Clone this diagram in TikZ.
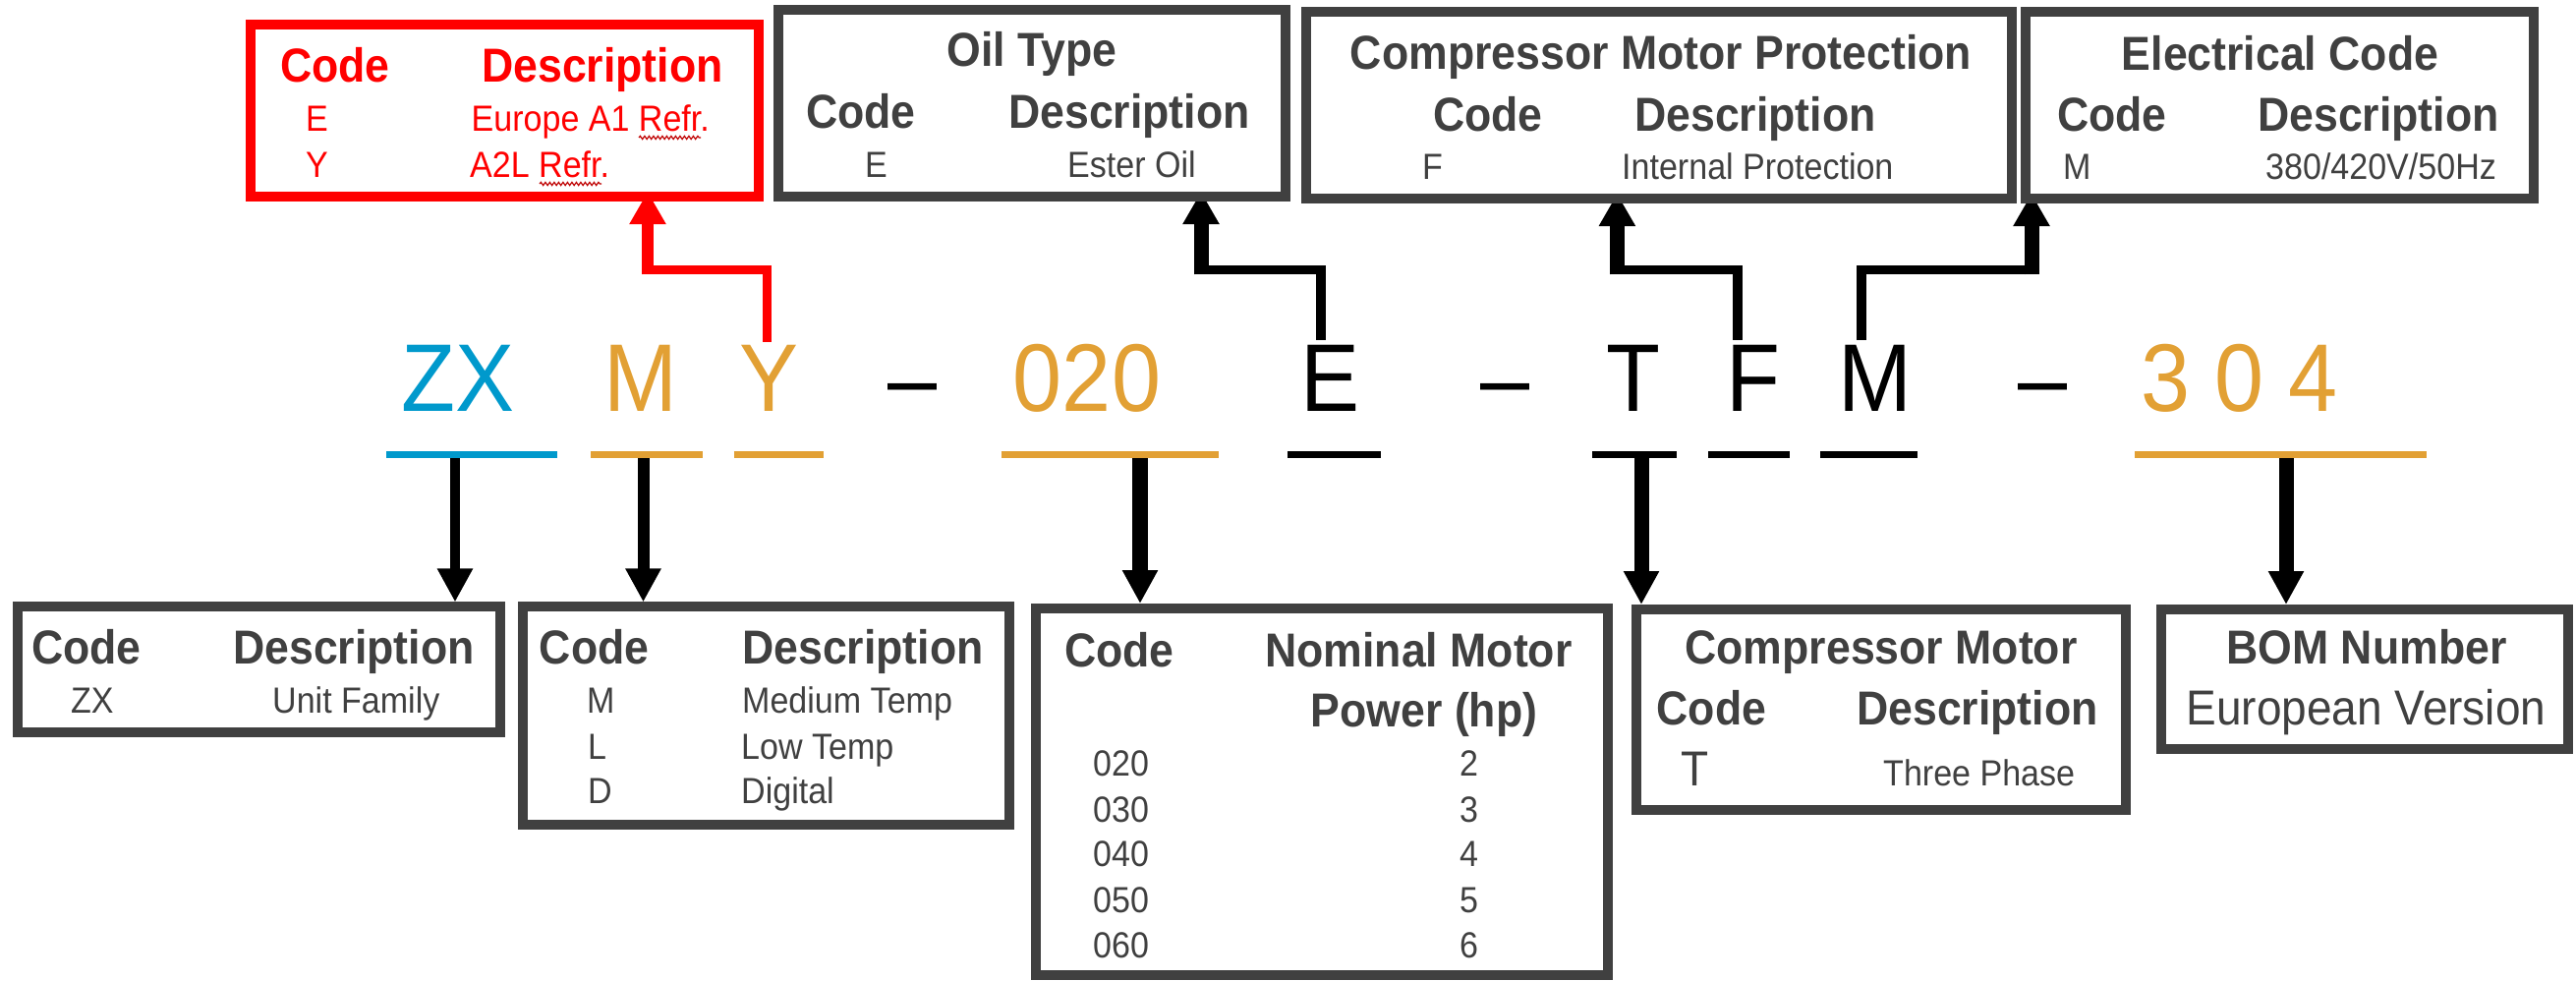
\documentclass[tikz,border=0pt]{standalone}
\usepackage{fontspec}
\setmainfont{Liberation Sans}[FakeStretch=0.92]
\usetikzlibrary{arrows.meta,decorations.pathmorphing,calc,backgrounds}
\definecolor{tgray}{RGB}{64,64,64}
\definecolor{cblue}{RGB}{0,153,204}
\definecolor{corange}{RGB}{226,160,52}
\definecolor{cred}{RGB}{255,0,0}
\newcommand\fHd{\fontsize{48.5pt}{58pt}\selectfont\bfseries}
\newcommand\fRow{\fontsize{37pt}{44pt}\selectfont}
\newcommand\fMid{\fontsize{50pt}{60pt}\selectfont}
\newcommand\fBig{\fontsize{97.8pt}{117pt}\selectfont}
\begin{document}
\begin{tikzpicture}[x=1pt,y=-1pt,
  box/.style={draw=tgray, line width=10pt, inner sep=0pt, fill=white},
  hd/.style={font=\fHd, text=tgray, inner sep=0pt, anchor=base west},
  hdc/.style={font=\fHd, text=tgray, inner sep=0pt, anchor=base},
  rw/.style={font=\fRow, text=tgray, inner sep=0pt, anchor=base west},
  mid/.style={font=\fMid, text=tgray, inner sep=0pt},
  big/.style={font=\fBig, inner sep=0pt, anchor=base},
  uline/.style={line width=7pt},
  dnarrow/.style={-{Triangle[length=34pt,width=34pt]}},
  lowseg/.style={line width=10pt},
  hseg/.style={line width=9.5pt},
  upv/.style={line width=15pt, -{Triangle[length=33pt,width=35pt]}},
  squig/.style={draw=cred!75!black, line width=1.2pt, decorate, decoration={snake, amplitude=1.6pt, segment length=4.5pt}},
]
\useasboundingbox (0,0) rectangle (2621,998);

% ---------- top boxes ----------
\node[box, draw=cred, minimum width=517pt, minimum height=175pt] (redbox) at (513.5,112.5) {};
\node[box, minimum width=516pt, minimum height=190pt] (oilbox) at (1050,105) {};
\node[box, minimum width=718pt, minimum height=190pt] (cmpbox) at (1688,107) {};
\node[box, minimum width=517pt, minimum height=190pt] (elecbox) at (2319.5,107) {};

% red box text
\node[hd, text=cred] (r1) at (285,83.3) {Code};
\node[hd, text=cred] (r2) at (490,83.3) {Description};
\node[rw, text=cred] (r3) at (311,133.3) {E};
\node[rw, text=cred] (r4) at (479.5,133.3) {Europe A1 Refr.};
\node[rw, text=cred] (r5) at (311,180) {Y};
\node[rw, text=cred] (r6) at (478,180) {A2L Refr.};
\draw[squig] (650,140) -- (713,140);
\draw[squig] (549,187) -- (612,187);

% oil box text
\node[hdc] (o0) at (1050,68) {Oil Type};
\node[hd] (o1) at (820,130) {Code};
\node[hd] (o2) at (1026,130) {Description};
\node[rw] (o3) at (880,180) {E};
\node[rw] (o4) at (1086,180) {Ester Oil};

% compressor motor protection
\node[hdc] (c0) at (1690,70.7) {Compressor Motor Protection};
\node[hd] (c1) at (1458,133) {Code};
\node[hd] (c2) at (1663,133) {Description};
\node[rw] (c3) at (1447,182.7) {F};
\node[rw] (c4) at (1650,182.7) {Internal Protection};

% electrical code
\node[hdc] (e0) at (2320,71.7) {Electrical Code};
\node[hd] (e1) at (2093,133) {Code};
\node[hd] (e2) at (2297,133) {Description};
\node[rw] (e3) at (2099,182.7) {M};
\node[rw] (e4) at (2305,182.7) {380/420V/50Hz};

% ---------- model code ----------
\node[big, text=cblue] (lZX) at (466,418.3) {ZX};
\node[big, text=corange] (lM) at (652,418.3) {M};
\node[big, text=corange] (lY) at (782,418.3) {Y};
\node[big] (d1) at (928.5,418.3) {\textendash};
\node[big, text=corange] (l020) at (1106,418.3) {020};
\node[big] (lE) at (1353.5,418.3) {E};
\node[big] (d2) at (1531.5,418.3) {\textendash};
\node[big] (lT) at (1662,418.3) {T};
\node[big] (lF) at (1783.6,418.3) {F};
\node[big] (lM2) at (1907.7,418.3) {M};
\node[big] (d3) at (2078,418.3) {\textendash};
\node[big, text=corange] (l304) at (2279,418.3) {3 0 4};

% underlines
\draw[uline, cblue] (393,462) -- (567,462);
\draw[uline, corange] (601,462) -- (715,462);
\draw[uline, corange] (746.5,462) -- (838,462);
\draw[uline, corange] (1018.7,462) -- (1239.6,462);
\draw[uline] (1310,462) -- (1405.3,462);
\draw[uline] (1620,462) -- (1706,462);
\draw[uline] (1738,462) -- (1820.7,462);
\draw[uline] (1852,462) -- (1951,462);
\draw[uline, corange] (2172,462) -- (2468.5,462);

% ---------- bottom boxes ----------
\node[box, minimum width=491pt, minimum height=127.5pt] (zxbox) at (263,681.2) {};
\node[box, minimum width=494.5pt, minimum height=221.5pt] (mbox) at (779.7,728.2) {};
\node[box, minimum width=582.5pt, minimum height=373pt] (nombox) at (1344.8,805.5) {};
\node[box, minimum width=498.4pt, minimum height=204pt] (cmbox) at (1913.8,722) {};
\node[box, minimum width=414pt, minimum height=142pt] (bombox) at (2406,691) {};

% ZX box text
\node[hd] (z1) at (32,675.4) {Code};
\node[hd] (z2) at (237,675.4) {Description};
\node[rw] (z3) at (72,725.4) {ZX};
\node[rw] (z4) at (277,725.4) {Unit Family};

% M box text
\node[hd] (m1) at (548.7,675.4) {Code};
\node[hd] (m2) at (755,675.4) {Description};
\node[rw] (m3) at (597,725.4) {M};
\node[rw] (m4) at (755,725.4) {Medium Temp};
\node[rw] (m5) at (598,772) {L};
\node[rw] (m6) at (754,772) {Low Temp};
\node[rw] (m7) at (598,817) {D};
\node[rw] (m8) at (754,817) {Digital};

% nominal power box
\node[hd] (n1) at (1083,678) {Code};
\node[hd] (n2) at (1287,678) {Nominal Motor};
\node[hdc] (n3) at (1449,739.4) {Power (hp)};
\node[rw] (n4) at (1112,789.7) {020};
\node[rw] (n5) at (1485,789.7) {2};
\node[rw] (n6) at (1112,836) {030};
\node[rw] (n7) at (1485,836) {3};
\node[rw] (n8) at (1112,881.6) {040};
\node[rw] (n9) at (1485,881.6) {4};
\node[rw] (n10) at (1112,928) {050};
\node[rw] (n11) at (1485,928) {5};
\node[rw] (n12) at (1112,974) {060};
\node[rw] (n13) at (1485,974) {6};

% compressor motor box
\node[hdc] (k0) at (1914,675.4) {Compressor Motor};
\node[hd] (k1) at (1685.5,737) {Code};
\node[hd] (k2) at (1889,737) {Description};
\node[mid, anchor=base west] (k3) at (1710,799.5) {T};
\node[rw] (k4) at (1916,799.5) {Three Phase};

% BOM box
\node[hdc] (b0) at (2408,675.4) {BOM Number};
\node[mid, anchor=base] (b1) at (2407.5,737) {European Version};

% ---------- connectors (behind the boxes) ----------
\coordinate (hl) at (0,274.5);
\coordinate (rA) at (659,0);
\coordinate (oA) at (1222,0);
\coordinate (cA) at (1645.4,0);
\coordinate (eA) at (2067,0);

\begin{pgfonlayer}{background}
% Y -> red box
\coordinate (sY) at ($(lY.north)+(-2,-3)$);
\draw[lowseg, line width=9pt, cred] (sY) -- (sY |- hl);
\draw[hseg, cred, shorten <=-4.5pt, shorten >=-6pt] (sY |- hl) -- (rA |- hl);
\draw[upv, line width=12pt, cred] ($(rA |- hl)+(0,4.75)$) -- ($(redbox.south -| rA)+(0,-10)$);
% E -> oil box
\coordinate (sE) at ($(lE.north)+(-9.7,-5)$);
\draw[lowseg] (sE) -- (sE |- hl);
\draw[hseg, shorten <=-5pt, shorten >=-7.5pt] (sE |- hl) -- (oA |- hl);
\draw[upv] ($(oA |- hl)+(0,4.75)$) -- ($(oilbox.south -| oA)+(0,-10)$);
% F -> protection box
\coordinate (sF) at ($(lF.north)+(-16,-5)$);
\draw[lowseg] (sF) -- (sF |- hl);
\draw[hseg, shorten <=-5pt, shorten >=-7.5pt] (sF |- hl) -- (cA |- hl);
\draw[upv] ($(cA |- hl)+(0,4.75)$) -- ($(cmpbox.south -| cA)+(0,-10)$);
% M -> electrical box
\coordinate (sM) at ($(lM2.north)+(-13.7,-5)$);
\draw[lowseg] (sM) -- (sM |- hl);
\draw[hseg, shorten <=-5pt, shorten >=-7.5pt] (sM |- hl) -- (eA |- hl);
\draw[upv] ($(eA |- hl)+(0,4.75)$) -- ($(elecbox.south -| eA)+(0,-10)$);

% down arrows
\coordinate (uZX) at (463,462);
\coordinate (uM) at (654.5,462);
\coordinate (u020) at (1160,462);
\coordinate (uT) at (1670,462);
\coordinate (u304) at (2326,462);
\draw[dnarrow, line width=9.5pt] (uZX) -- (uZX |- zxbox.north);
\draw[dnarrow, line width=12pt] (uM) -- (uM |- mbox.north);
\draw[dnarrow, line width=15.5pt] (u020) -- (u020 |- nombox.north);
\draw[dnarrow, line width=15pt] (uT) -- (uT |- cmbox.north);
\draw[dnarrow, line width=15pt] (u304) -- (u304 |- bombox.north);
\end{pgfonlayer}
\end{tikzpicture}
\end{document}
